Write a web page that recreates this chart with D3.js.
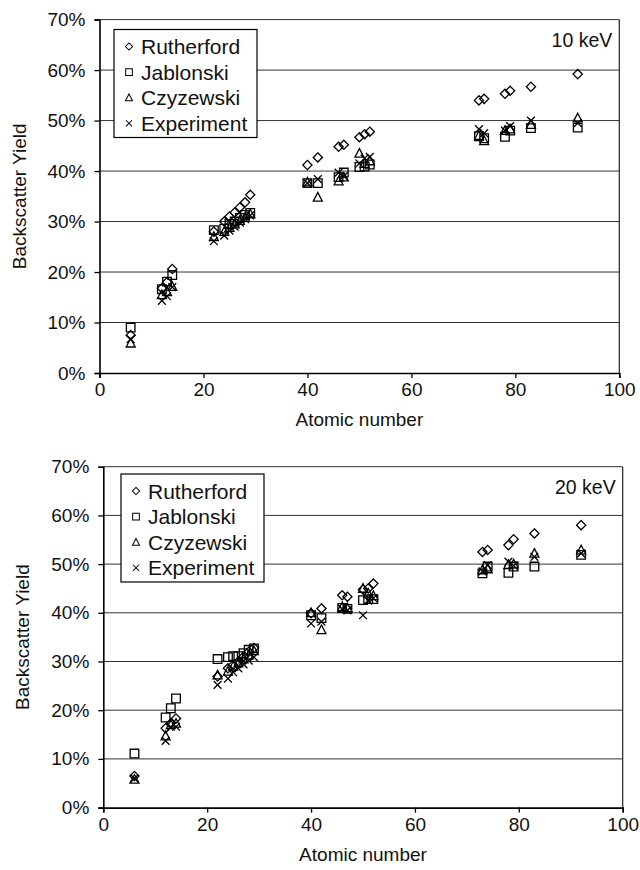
<!DOCTYPE html>
<html>
<head>
<meta charset="utf-8">
<script src="https://cdn.jsdelivr.net/npm/d3@7"></script>
<style>
  body { margin: 0; background: #fff; }
  svg { display: block; font-family: "Liberation Sans", Arial, Helvetica, sans-serif; }
</style>
</head>
<body>
<div id="chart"></div>
<script>
// atomic numbers of the measured elements
const atomicNumbers = [6, 12, 13, 14, 22, 24, 25, 26, 27, 28, 29, 40, 42, 46, 47, 50, 51, 52, 73, 74, 78, 79, 83, 92];

// 10 keV backscatter yield (%)
const rutherford10 = [7.5, 16.8, 18.0, 20.6, 28.0, 30.0, 31.0, 31.8, 32.8, 33.8, 35.3, 41.2, 42.7, 44.8, 45.2, 46.7, 47.3, 47.8, 54.0, 54.3, 55.3, 55.9, 56.7, 59.2];
const jablonski10  = [9.0, 16.6, 18.1, 19.4, 28.3, 28.6, 29.5, 30.0, 30.7, 31.3, 31.7, 37.6, 37.6, 38.8, 39.7, 40.8, 40.9, 41.3, 46.9, 46.5, 46.8, 48.0, 48.5, 48.6];
const czyzewski10  = [5.9, 15.5, 16.1, 17.1, 27.0, 28.0, 28.8, 29.5, 30.2, 30.8, 31.5, 37.8, 34.8, 38.0, 38.8, 43.5, 41.5, 42.0, 47.0, 46.0, 48.0, 48.3, 49.2, 50.5];
const experiment10 = [6.7, 14.3, 15.2, 17.0, 26.1, 27.2, 28.2, 29.0, 29.8, 30.5, 31.2, 37.6, 38.4, 39.7, 39.0, 41.5, 42.5, 42.8, 48.3, 47.5, 48.0, 48.9, 50.0, 49.5];

// 20 keV backscatter yield (%)
const rutherford20 = [6.5, 16.3, 17.3, 18.3, 26.9, 28.6, 29.3, 30.0, 31.0, 32.0, 32.8, 39.9, 40.9, 43.6, 43.3, 44.8, 45.0, 46.0, 52.5, 52.9, 53.9, 55.1, 56.3, 58.0];
const jablonski20  = [11.1, 18.5, 20.4, 22.4, 30.5, 30.9, 31.1, 31.1, 31.7, 32.4, 32.7, 39.5, 38.9, 41.0, 40.8, 42.6, 42.8, 42.8, 48.1, 49.5, 48.2, 49.5, 49.5, 51.9];
const czyzewski20  = [5.8, 14.7, 17.0, 17.3, 27.2, 28.0, 29.0, 29.7, 30.5, 31.3, 32.2, 40.0, 36.5, 41.2, 41.0, 45.0, 44.0, 43.5, 48.8, 49.0, 49.9, 50.0, 52.2, 52.9];
const experiment20 = [6.0, 13.7, 16.6, 16.6, 25.2, 26.5, 27.8, 28.6, 29.4, 30.2, 30.9, 37.8, 38.2, 40.8, 40.5, 39.5, 42.5, 43.0, 48.5, 49.8, 50.5, 49.7, 51.5, 52.2];

const seriesNames = ["Rutherford", "Jablonski", "Czyzewski", "Experiment"];
const seriesShapes = ["diamond", "square", "triangle", "cross"];
const xTicks = [0, 20, 40, 60, 80, 100];
const yTicks = [0, 10, 20, 30, 40, 50, 60, 70];

const W = 640, H = 870;
const svg = d3.select("#chart").append("svg")
    .attr("width", W)
    .attr("height", H);

// marker outlines centred at 0,0
function markerPath(shape) {
    if (shape === "diamond") return "M0,-4.6L4.6,0L0,4.6L-4.6,0Z";
    if (shape === "square") return "M-4.3,-4.3H4.3V4.3H-4.3Z";
    if (shape === "triangle") return "M0,-4.8L4.5,3.8H-4.5Z";
    return "M-3.9,-3.9L3.9,3.9M3.9,-3.9L-3.9,3.9";
}

function drawPanel(p) {
    const x = d3.scaleLinear().domain([0, 100]).range([p.left, p.right]);
    const y = d3.scaleLinear().domain([0, 70]).range([p.bottom, p.top]);
    const g = svg.append("g");

    // gridlines
    g.append("g").selectAll("line")
        .data(yTicks.slice(1))
        .enter().append("line")
        .attr("x1", p.left).attr("x2", p.right)
        .attr("y1", d => y(d)).attr("y2", d => y(d))
        .attr("stroke", "#333")
        .attr("stroke-width", 1);

    // right border
    g.append("line")
        .attr("x1", p.right).attr("x2", p.right)
        .attr("y1", p.top).attr("y2", p.bottom)
        .attr("stroke", "#222").attr("stroke-width", 1.2);

    const xAxis = g.append("g")
        .attr("transform", `translate(0,${p.bottom})`)
        .call(d3.axisBottom(x).tickValues(xTicks).tickSize(5).tickPadding(5));
    const yAxis = g.append("g")
        .attr("transform", `translate(${p.left},0)`)
        .call(d3.axisLeft(y).tickValues(yTicks).tickSize(5).tickPadding(9).tickFormat(d => d + "%"));

    [xAxis, yAxis].forEach(a => {
        a.select(".domain").attr("stroke", "#000").attr("stroke-width", 1.6);
        a.selectAll(".tick line").attr("stroke", "#000").attr("stroke-width", 1.3);
        a.selectAll("text")
            .attr("font-family", "'Liberation Sans', Arial, sans-serif")
            .attr("font-size", "19px")
            .attr("fill", "#111");
    });

    // axis titles
    g.append("text")
        .attr("x", (p.left + p.right) / 2)
        .attr("y", p.bottom + 53)
        .attr("text-anchor", "middle")
        .attr("font-size", "19px")
        .attr("fill", "#111")
        .text("Atomic number");
    g.append("text")
        .attr("transform", `translate(${p.left - 74},${(p.top + p.bottom) / 2}) rotate(-90)`)
        .attr("text-anchor", "middle")
        .attr("font-size", "19px")
        .attr("fill", "#111")
        .text("Backscatter Yield");

    // energy label
    g.append("text")
        .attr("x", p.right - 7)
        .attr("y", p.top + 27)
        .attr("text-anchor", "end")
        .attr("font-size", "19.5px")
        .attr("fill", "#111")
        .text(p.label);

    // points
    p.series.forEach((vals, i) => {
        g.append("g").selectAll("path")
            .data(atomicNumbers.map((z, j) => [z, vals[j]]))
            .enter().append("path")
            .attr("transform", d => `translate(${x(d[0])},${y(d[1])})`)
            .attr("d", markerPath(seriesShapes[i]))
            .attr("fill", "none")
            .attr("stroke", "#000")
            .attr("stroke-width", 1.3);
    });

    // legend
    const lg = g.append("g").attr("transform", `translate(${p.legend[0]},${p.legend[1]})`);
    lg.append("rect")
        .attr("width", 143).attr("height", 108)
        .attr("fill", "#fff").attr("stroke", "#000").attr("stroke-width", 1.2);
    seriesNames.forEach((name, i) => {
        const cy = 17 + i * 25.6;
        lg.append("path")
            .attr("transform", `translate(15,${cy}) scale(0.78)`)
            .attr("d", markerPath(seriesShapes[i]))
            .attr("fill", "none").attr("stroke", "#000").attr("stroke-width", 1.3);
        lg.append("text")
            .attr("x", 27).attr("y", cy + 7.5)
            .attr("font-size", "21px")
            .attr("fill", "#111")
            .text(name);
    });
}

drawPanel({
    left: 99.5, right: 619.3, top: 19.6, bottom: 373,
    label: "10 keV",
    series: [rutherford10, jablonski10, czyzewski10, experiment10],
    legend: [114, 29.5]
});

drawPanel({
    left: 103.3, right: 622.7, top: 466.7, bottom: 807.6,
    label: "20 keV",
    series: [rutherford20, jablonski20, czyzewski20, experiment20],
    legend: [121, 474]
});
</script>
</body>
</html>
